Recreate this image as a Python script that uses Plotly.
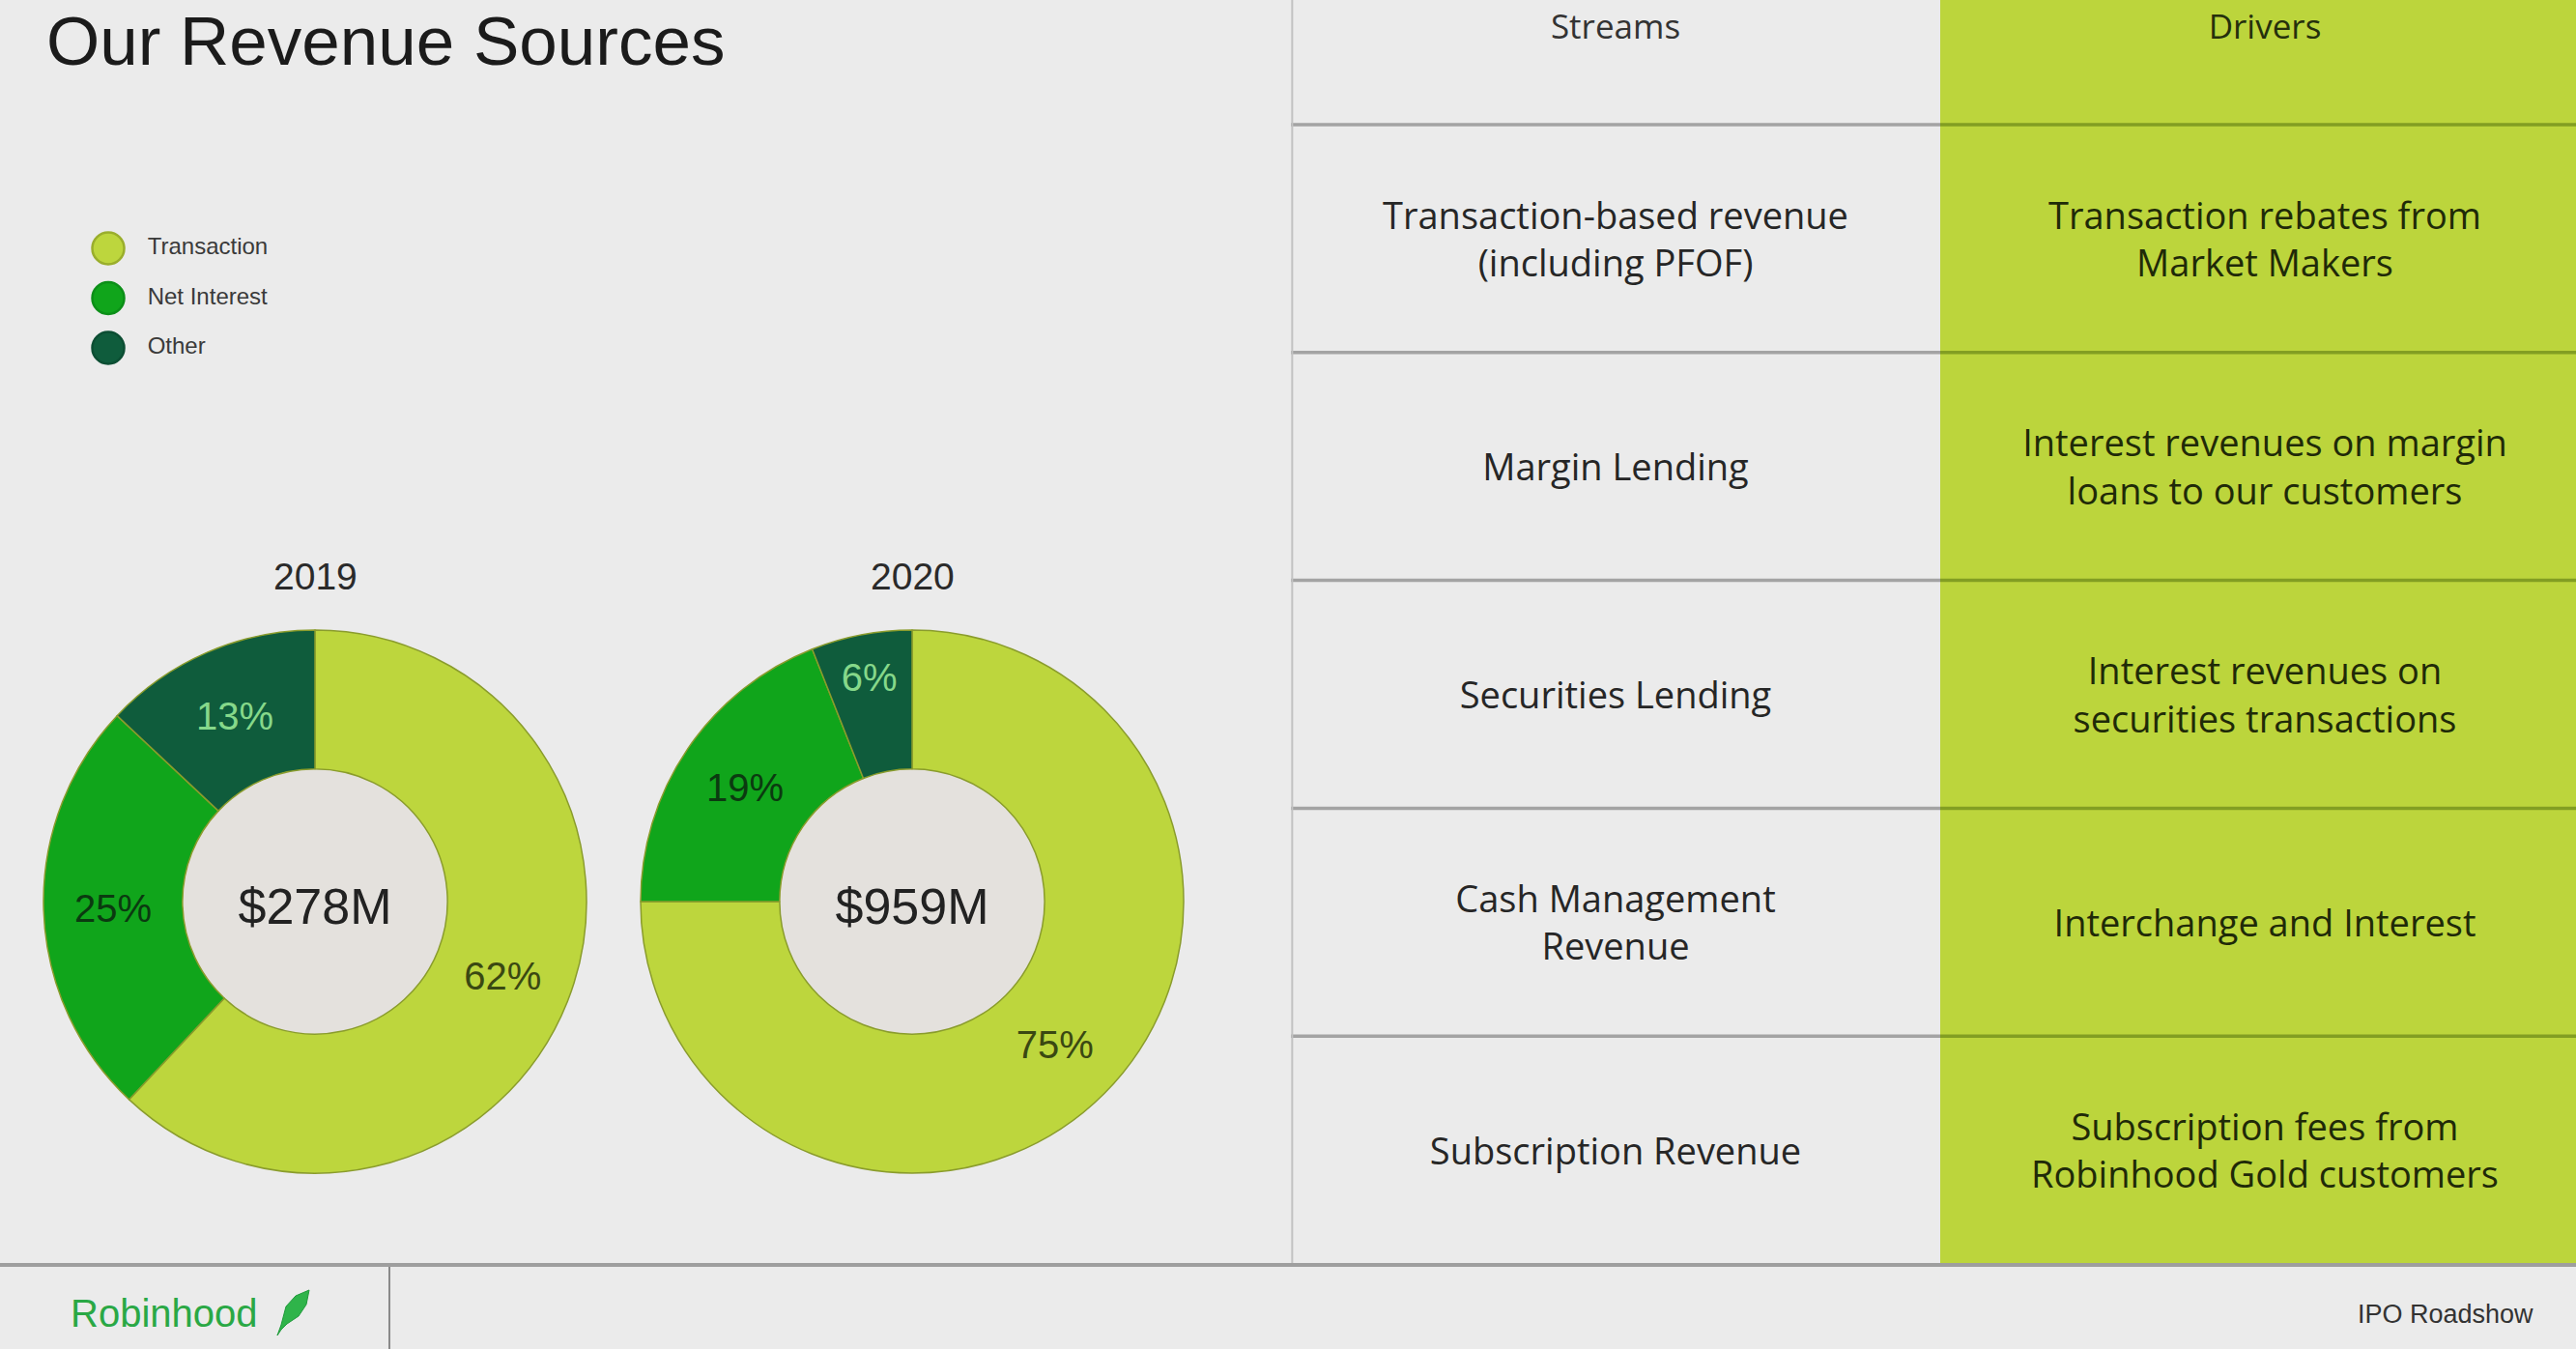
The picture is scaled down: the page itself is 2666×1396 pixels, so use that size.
import plotly.graph_objects as go

W, H = 2666, 1396

# ---------------- data ----------------
segments = ["Transaction", "Net Interest", "Other"]
years = ["2019", "2020"]
share_2019 = [62, 25, 13]
share_2020 = [75, 19, 6]
totals = ["$278M", "$959M"]

headers = ["Streams", "Drivers"]
streams = [
    "Transaction-based revenue<br>(including PFOF)",
    "Margin Lending",
    "Securities Lending",
    "Cash Management<br>Revenue",
    "Subscription Revenue",
]
drivers = [
    "Transaction rebates from<br>Market Makers",
    "Interest revenues on margin<br>loans to our customers",
    "Interest revenues on<br>securities transactions",
    "Interchange and Interest",
    "Subscription fees from<br>Robinhood Gold customers",
]

# ---------------- styles ----------------
BG = "#ebebeb"
HOLE_BG = "#e4e1dd"
seg_colors = ["#bdd63d", "#10a51b", "#0f5c3c"]
seg_text_colors = ["#3a4812", "#0b3a10", "#86d88a"]
legend_line = ["#9aae2c", "#0c8f18", "#0c4e33"]
GREEN_COL = "#bcd53c"
SANS = "Liberation Sans, Arial, sans-serif"
TABLE_FONT = "Open Sans, Liberation Sans, sans-serif"


def fx(px):
    return px / W


def fy(py):
    return 1 - py / H


fig = go.Figure()

# ---------------- donuts ----------------
pie_centers = [(326, 933), (944, 933)]
R_OUT = 281
shares = [share_2019, share_2020]
shapes = []
annotations = []
for yr, vals, tot, (cx, cy) in zip(years, shares, totals, pie_centers):
    fig.add_trace(go.Pie(
        labels=segments, values=vals, sort=False, direction="clockwise",
        rotation=0, hole=0.488, showlegend=False,
        domain=dict(x=[fx(cx - R_OUT), fx(cx + R_OUT)],
                    y=[fy(cy + R_OUT), fy(cy - R_OUT)]),
        marker=dict(colors=seg_colors, line=dict(color="#8a9c2c", width=1.5)),
        texttemplate="%{value}%", textposition="inside",
        insidetextorientation="horizontal",
        textfont=dict(size=40, family=SANS, color=seg_text_colors),
        title=dict(text=tot, position="middle center",
                   font=dict(size=52, family=SANS, color="#222222")),
        hoverinfo="label+value",
    ))
    r_in = R_OUT * 0.488
    shapes.append(dict(type="circle", xref="paper", yref="paper", layer="below",
                       x0=fx(cx - r_in), x1=fx(cx + r_in),
                       y0=fy(cy + r_in), y1=fy(cy - r_in),
                       fillcolor=HOLE_BG, line=dict(width=0)))
    annotations.append(dict(text=yr, xref="paper", yref="paper",
                            x=fx(cx), y=fy(cy - R_OUT - 56), xanchor="center",
                            yanchor="middle", showarrow=False,
                            font=dict(size=39, family=SANS, color="#2a2a2a")))

# ---------------- custom legend (axes x / y) ----------------
fig.add_trace(go.Scatter(
    x=[0.0667] * len(segments), y=segments, mode="markers",
    marker=dict(size=33, color=seg_colors, line=dict(color=legend_line, width=2.5)),
    xaxis="x", yaxis="y", showlegend=False, hoverinfo="skip",
))
fig.add_trace(go.Scatter(
    x=[0.19] * len(segments), y=segments, mode="text", text=segments,
    textposition="middle right",
    textfont=dict(size=24, family=SANS, color="#3a3a3a"),
    xaxis="x", yaxis="y", showlegend=False, hoverinfo="skip",
))

# ---------------- table (axes x2 / y2) ----------------
ROW_H = 235.8
TABLE_BOTTOM = 1308
X_END = (W - 1336) / 672
Y_TOP = 5.5 - TABLE_BOTTOM / ROW_H
TEXT_SHIFT = 5 / ROW_H          # small downward nudge of cell text
rows = list(range(1, len(streams) + 1))
text_rows = [r + TEXT_SHIFT for r in rows]

shapes.append(dict(type="rect", xref="x2", yref="y2", layer="below",
                   x0=1, x1=X_END, y0=Y_TOP, y1=5.5,
                   fillcolor=GREEN_COL, line=dict(width=0)))
for r in [0.5] + [i + 0.5 for i in rows[:-1]]:
    shapes.append(dict(type="line", xref="x2", yref="y2", x0=0, x1=1, y0=r, y1=r,
                       line=dict(color="#a3a3a3", width=3.5)))
    shapes.append(dict(type="line", xref="x2", yref="y2", x0=1, x1=X_END, y0=r, y1=r,
                       line=dict(color="#829e22", width=3.5)))
shapes.append(dict(type="line", xref="x2", yref="y2", x0=0.002, x1=0.002,
                   y0=Y_TOP, y1=5.5, line=dict(color="#c2c2c2", width=2)))

header_y = Y_TOP + 31 / ROW_H
fig.add_trace(go.Scatter(
    x=[0.5, 1.5], y=[header_y, header_y], mode="text", text=headers,
    textposition="middle center",
    textfont=dict(size=35, family=TABLE_FONT, color=["#333333", "#25300c"]),
    xaxis="x2", yaxis="y2", showlegend=False, hoverinfo="skip",
))
fig.add_trace(go.Scatter(
    x=[0.5] * len(streams), y=text_rows, mode="text", text=streams,
    textposition="middle center",
    textfont=dict(size=38, family=TABLE_FONT, color="#262626"),
    xaxis="x2", yaxis="y2", showlegend=False, hoverinfo="skip",
))
fig.add_trace(go.Scatter(
    x=[1.5] * len(drivers), y=text_rows, mode="text", text=drivers,
    textposition="middle center",
    textfont=dict(size=38, family=TABLE_FONT, color="#1f2a08"),
    xaxis="x2", yaxis="y2", showlegend=False, hoverinfo="skip",
))

# ---------------- footer ----------------
shapes.append(dict(type="line", xref="paper", yref="paper", x0=0, x1=1,
                   y0=fy(1309), y1=fy(1309), line=dict(color="#9e9e9e", width=4)))
shapes.append(dict(type="line", xref="paper", yref="paper", x0=fx(403), x1=fx(403),
                   y0=fy(1311), y1=0, line=dict(color="#8a8a8a", width=2)))
feather_pts = [(287, 1382), (291, 1371), (296, 1352), (306, 1341), (320, 1335),
               (317, 1350), (309, 1362), (297, 1370), (291, 1376)]
path = "M " + " L ".join(f"{fx(x):.5f},{fy(y):.5f}" for x, y in feather_pts) + " Z"
shapes.append(dict(type="path", xref="paper", yref="paper", path=path,
                   fillcolor="#2fb44a", line=dict(color="#1f9a3a", width=1)))

annotations += [
    dict(text="Our Revenue Sources", xref="paper", yref="paper", x=fx(46), y=fy(43),
         xanchor="left", yanchor="middle", showarrow=False,
         font=dict(size=71, family=SANS, color="#1b1b1b")),
    dict(text="Robinhood", xref="paper", yref="paper", x=fx(71), y=fy(1359),
         xanchor="left", yanchor="middle", showarrow=False,
         font=dict(size=40, family=SANS, color="#2aa845")),
    dict(text="IPO Roadshow", xref="paper", yref="paper", x=fx(2624), y=fy(1360),
         xanchor="right", yanchor="middle", showarrow=False,
         font=dict(size=27, family=SANS, color="#333333")),
]

fig.update_layout(
    width=W, height=H, margin=dict(l=0, r=0, t=0, b=0),
    paper_bgcolor=BG, plot_bgcolor="rgba(0,0,0,0)",
    showlegend=False,
    xaxis=dict(domain=[fx(90), fx(420)], range=[0, 1], visible=False, fixedrange=True),
    yaxis=dict(domain=[fy(385.75), fy(231.25)], type="category",
               categoryarray=segments, range=[2.5, -0.5], visible=False, fixedrange=True),
    xaxis2=dict(domain=[fx(1336), 1], range=[0, X_END], visible=False, fixedrange=True),
    yaxis2=dict(domain=[fy(TABLE_BOTTOM), 1], range=[5.5, Y_TOP], visible=False,
                fixedrange=True),
    shapes=shapes, annotations=annotations,
)

fig.write_html("out.html", config={"displayModeBar": False},
               post_script="document.body.style.margin='0';")
